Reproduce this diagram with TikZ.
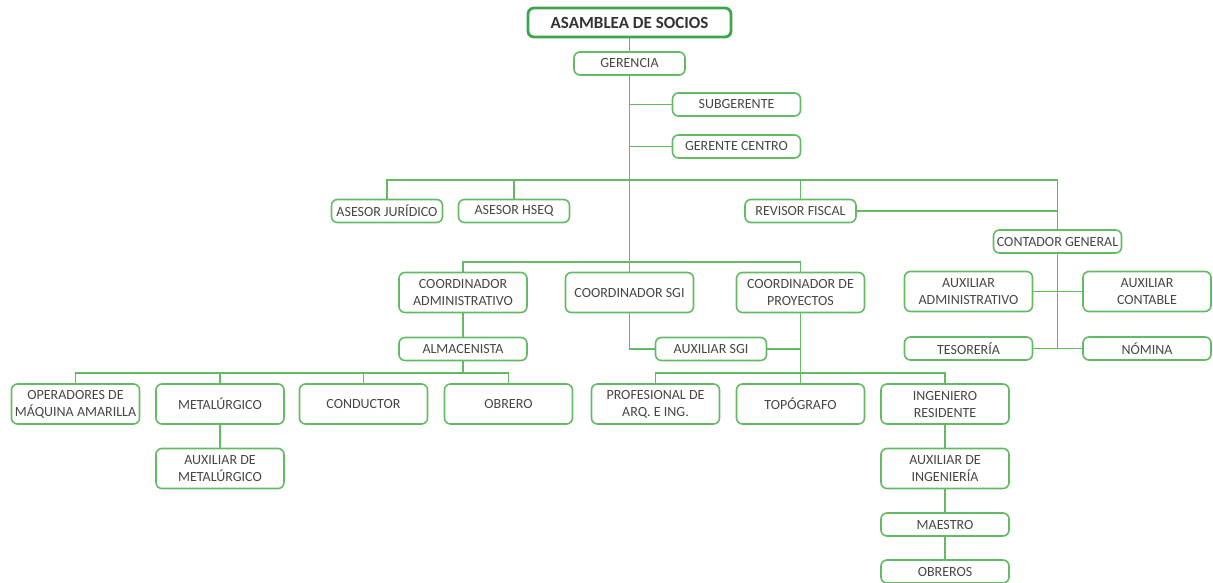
\documentclass[tikz,border=0pt]{standalone}
\usepackage{fontspec}
\setmainfont{Carlito}
\definecolor{linegreen}{RGB}{98,186,98}
\definecolor{topgreen}{RGB}{62,164,78}
\definecolor{txtgray}{RGB}{70,70,70}
\tikzset{
    box/.style={draw=linegreen, line width=1.6pt, rounded corners=6pt,
        minimum width=128pt, minimum height=23pt, inner sep=1pt,
        align=center, text=txtgray, font=\fontsize{14}{17}\selectfont},
    narrow/.style={minimum width=111pt},
    tall/.style={minimum height=40pt},
    link/.style={draw=linegreen, line width=1.6pt},
}
\begin{document}
\begin{tikzpicture}[x=1pt,y=-1pt]
    \useasboundingbox (0,0) rectangle (1213,582);
    %% Top
    \node[box, draw=topgreen, line width=2.8pt, minimum width=203pt, minimum height=29pt,
        font=\fontsize{17}{20}\selectfont\bfseries, text=black!80] (asamblea) at (629.5,22.5) {ASAMBLEA DE SOCIOS};
    \node[box, narrow] (gerencia) at (629.5,63.5) {GERENCIA};
    \node[box] (subgerente) at (736.5,104.5) {SUBGERENTE};
    \node[box] (gcentro) at (736.5,146.5) {GERENTE CENTRO};
    %% Advisors
    \node[box, narrow] (ajuridico) at (387,211) {ASESOR JURÍDICO};
    \node[box, narrow] (ahseq) at (514,211) {ASESOR HSEQ};
    \node[box, narrow] (revisor) at (800.5,211) {REVISOR FISCAL};
    \node[box] (contador) at (1057.5,241.5) {CONTADOR GENERAL};
    \node[box, tall] (auxadm) at (968.5,291.5) {AUXILIAR\\ADMINISTRATIVO};
    \node[box, tall] (auxcont) at (1147,291.5) {AUXILIAR\\CONTABLE};
    \node[box] (tesoreria) at (968.5,348.5) {TESORERÍA};
    \node[box] (nomina) at (1147,348.5) {NÓMINA};
    %% Coordinators
    \node[box, tall] (cadm) at (463,292.5) {COORDINADOR\\ADMINISTRATIVO};
    \node[box, tall] (csgi) at (629.5,292.5) {COORDINADOR SGI};
    \node[box, tall] (cproy) at (800.5,292.5) {COORDINADOR DE\\PROYECTOS};
    \node[box] (almacen) at (463,349) {ALMACENISTA};
    \node[box, narrow] (auxsgi) at (711,349) {AUXILIAR SGI};
    %% Operative level
    \node[box, tall] (operadores) at (75.5,404) {OPERADORES DE\\MÁQUINA AMARILLA};
    \node[box, tall] (metal) at (220,404) {METALÚRGICO};
    \node[box, tall] (conductor) at (363.5,404) {CONDUCTOR};
    \node[box, tall] (obrero) at (508.5,404) {OBRERO};
    \node[box, tall] (auxmetal) at (220,468.5) {AUXILIAR DE\\METALÚRGICO};
    \node[box, tall] (profesional) at (655.5,404) {PROFESIONAL DE\\ARQ. E ING.};
    \node[box, tall] (topografo) at (800.5,404) {TOPÓGRAFO};
    \node[box, tall] (ingres) at (945,404) {INGENIERO\\RESIDENTE};
    \node[box, tall] (auxing) at (945,468.5) {AUXILIAR DE\\INGENIERÍA};
    \node[box] (maestro) at (945,524.5) {MAESTRO};
    \node[box] (obreros) at (945,571.5) {OBREROS};
    %% Bus points
    \coordinate (busA) at (1057.5,180);
    \coordinate (busB) at (629.5,262);
    \coordinate (busC) at (463,373);
    \coordinate (busD) at (800.5,373);
    %% Connectors
    \draw[link] (asamblea) -- (gerencia);
    \draw[link] (gerencia) -- (csgi);
    \draw[link] (subgerente) -- (subgerente -| gerencia);
    \draw[link] (gcentro) -- (gcentro -| gerencia);
    \draw[link] (ajuridico) |- (busA) -- (contador);
    \draw[link] (ahseq) -- (ahseq |- busA);
    \draw[link] (revisor) -- (revisor |- busA);
    \draw[link] (revisor) -- (revisor -| busA);
    \draw[link] (contador) -- (contador |- nomina);
    \draw[link] (auxadm) -- (auxcont);
    \draw[link] (tesoreria) -- (nomina);
    \draw[link] (cadm) |- (busB) -| (cproy);
    \draw[link] (cadm) -- (almacen);
    \draw[link] (almacen) -- (busC);
    \draw[link] (operadores) |- (busC) -| (obrero);
    \draw[link] (metal) -- (metal |- busC);
    \draw[link] (conductor) -- (conductor |- busC);
    \draw[link] (metal) -- (auxmetal);
    \draw[link] (csgi) |- (auxsgi);
    \draw[link] (auxsgi) -- (auxsgi -| cproy);
    \draw[link] (cproy) -- (topografo);
    \draw[link] (profesional) |- (busD) -| (ingres);
    \draw[link] (ingres) -- (auxing) -- (maestro) -- (obreros);
\end{tikzpicture}
\end{document}
